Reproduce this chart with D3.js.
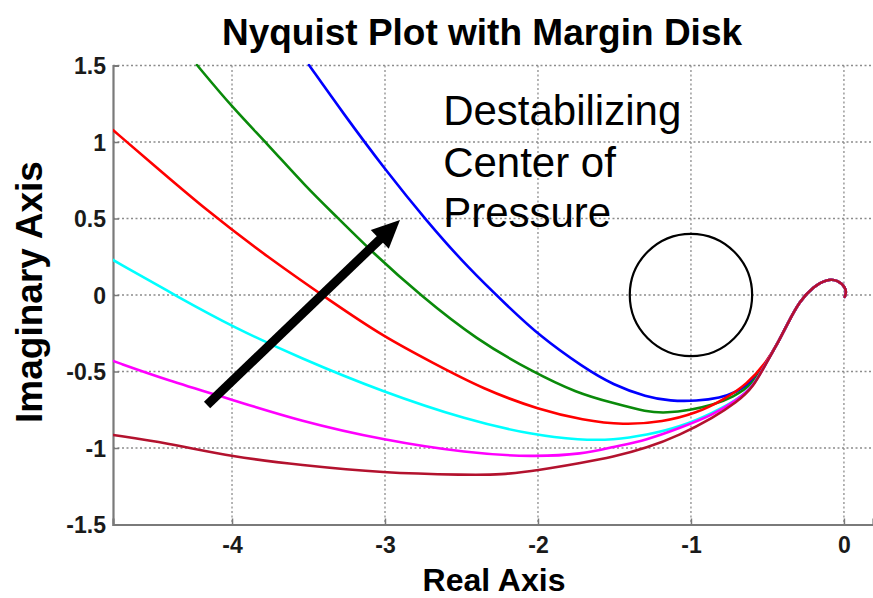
<!DOCTYPE html>
<html>
<head>
<meta charset="utf-8">
<script src="https://cdn.jsdelivr.net/npm/d3@7"></script>
<style>
  html, body { margin: 0; padding: 0; background: #fff; }
  svg { display: block; font-family: "Liberation Sans", Arial, Helvetica, sans-serif; }
</style>
</head>
<body>
<svg id="chart" width="873" height="598"></svg>
<script>
// ---- data ----
const title = "Nyquist Plot with Margin Disk";
const xLabel = "Real Axis";
const yLabel = "Imaginary Axis";
const xTicks = [-4, -3, -2, -1, 0];
const yTicks = [-1.5, -1, -0.5, 0, 0.5, 1, 1.5];
const xTickLabels = ["-4", "-3", "-2", "-1", "0"];
const yTickLabels = ["-1.5", "-1", "-0.5", "0", "0.5", "1", "1.5"];
const xDomain = [-4.778, 0.19];
const yDomain = [-1.5, 1.5];

// shared high-frequency tail of all curves
const tail = [[-0.50,-0.43],[-0.43,-0.31],[-0.37,-0.19],[-0.29,-0.04],[-0.20,0.055],[-0.11,0.105],[-0.04,0.098],[0.015,0.045],[0.012,0.005],[0.005,-0.012]];

const blueCurve = [[-3.497,1.503],[-3.275,1.19],[-3.0,0.82],[-2.725,0.48],[-2.45,0.17],[-2.2,-0.07],[-1.987,-0.27],[-1.706,-0.471],[-1.51,-0.588],[-1.288,-0.667],[-1.137,-0.693],[-0.961,-0.693],[-0.81,-0.673],[-0.699,-0.634],[-0.595,-0.565]];
const greenCurve = [[-4.229,1.503],[-3.993,1.22],[-3.771,0.99],[-3.51,0.70],[-3.314,0.51],[-3.078,0.275],[-2.771,0.0],[-2.399,-0.294],[-2.033,-0.503],[-1.745,-0.641],[-1.51,-0.706],[-1.288,-0.765],[-1.157,-0.771],[-1.007,-0.752],[-0.856,-0.719],[-0.725,-0.667],[-0.595,-0.585]];
const redCurve = [[-4.778,1.078],[-4.536,0.87],[-4.163,0.55],[-3.771,0.25],[-3.34,-0.05],[-3.013,-0.27],[-2.686,-0.444],[-2.359,-0.615],[-1.987,-0.752],[-1.706,-0.817],[-1.444,-0.85],[-1.183,-0.83],[-0.961,-0.771],[-0.791,-0.686],[-0.634,-0.585]];
const cyanCurve = [[-4.778,0.229],[-4.34,-0.02],[-3.993,-0.209],[-3.556,-0.412],[-3.013,-0.634],[-2.464,-0.817],[-2.033,-0.915],[-1.725,-0.948],[-1.51,-0.948],[-1.288,-0.915],[-1.072,-0.863],[-0.856,-0.771],[-0.699,-0.686],[-0.595,-0.601]];
const magentaCurve = [[-4.778,-0.431],[-4.425,-0.556],[-3.993,-0.686],[-3.556,-0.824],[-3.013,-0.948],[-2.464,-1.033],[-2.033,-1.059],[-1.706,-1.04],[-1.51,-0.993],[-1.288,-0.948],[-1.072,-0.869],[-0.856,-0.784],[-0.699,-0.686],[-0.595,-0.605]];
const darkRedCurve = [[-4.778,-0.915],[-4.425,-0.967],[-3.993,-1.059],[-3.556,-1.111],[-3.013,-1.163],[-2.464,-1.176],[-2.248,-1.176],[-1.987,-1.144],[-1.725,-1.098],[-1.51,-1.059],[-1.288,-1.0],[-1.072,-0.915],[-0.856,-0.804],[-0.699,-0.699],[-0.595,-0.608]];

const seriesNames = ["blue", "green", "red", "cyan", "magenta", "darkred"];
const seriesColors = ["#0000ff", "#0a8a0a", "#ff0000", "#00ffff", "#ff00ff", "#b3122e"];
const seriesData = [blueCurve, greenCurve, redCurve, cyanCurve, magentaCurve, darkRedCurve];

// margin disk
const diskCenter = [-1, 0];
const diskRadius = 0.4;

// annotation
const annotationLines = ["Destabilizing", "Center of", "Pressure"];
const annotationX = -2.62;
const annotationY = [1.11, 0.77, 0.443];
const arrowStart = [-4.163, -0.719];
const arrowEnd = [-2.902, 0.49];

// ---- layout ----
const svg = d3.select("#chart");
const W = 873, H = 598;
const mLeft = 113, mRight = 873, mTop = 65.5, mBottom = 524.5;

const x = d3.scaleLinear().domain(xDomain).range([mLeft, mRight]);
const y = d3.scaleLinear().domain(yDomain).range([mBottom, mTop]);

svg.append("rect").attr("width", W).attr("height", H).attr("fill", "#fff");

svg.append("defs").append("clipPath").attr("id", "clip")
  .append("rect").attr("x", mLeft).attr("y", mTop - 2).attr("width", mRight - mLeft).attr("height", mBottom - mTop + 4);

// grid
const grid = svg.append("g").attr("class", "grid");
grid.selectAll("line.gx").data(xTicks).enter().append("line")
  .attr("x1", d => x(d)).attr("x2", d => x(d))
  .attr("y1", mTop).attr("y2", mBottom)
  .attr("stroke", "#8c8c8c").attr("stroke-width", 1.3).attr("stroke-dasharray", "2,2.5");
grid.selectAll("line.gy").data(yTicks.filter(d => d !== -1.5)).enter().append("line")
  .attr("x1", mLeft).attr("x2", mRight)
  .attr("y1", d => y(d)).attr("y2", d => y(d))
  .attr("stroke", "#8c8c8c").attr("stroke-width", 1.3).attr("stroke-dasharray", "2,2.5");

// axes
const xAxis = d3.axisBottom(x).tickValues(xTicks).tickSize(-6).tickPadding(12)
  .tickFormat((d, i) => xTickLabels[i]);
const yAxis = d3.axisLeft(y).tickValues(yTicks).tickSize(-6).tickPadding(7)
  .tickFormat((d, i) => yTickLabels[i]);

const gx = svg.append("g").attr("transform", `translate(0,${mBottom})`).call(xAxis);
const gy = svg.append("g").attr("transform", `translate(${mLeft},0)`).call(yAxis);
[gx, gy].forEach(g => {
  g.select(".domain").attr("stroke", "#7a7a7a").attr("stroke-width", 2.2);
  g.selectAll(".tick line").attr("stroke", "#7a7a7a").attr("stroke-width", 1.5);
  g.selectAll(".tick text").attr("fill", "#1a1a1a").attr("font-size", 23).attr("font-weight", "bold")
    .attr("font-family", "'Liberation Sans', Arial, sans-serif");
});
gx.selectAll(".tick text").attr("dy", "0.71em");
gy.selectAll(".tick text").attr("dy", "0.36em");

// curves
const line = d3.line().x(d => x(d[0])).y(d => y(d[1])).curve(d3.curveBasis);
const plot = svg.append("g").attr("clip-path", "url(#clip)");
seriesData.forEach((s, i) => {
  plot.append("path")
    .datum(s.concat(tail))
    .attr("class", "series-" + seriesNames[i])
    .attr("fill", "none")
    .attr("stroke", seriesColors[i])
    .attr("stroke-width", 2.6)
    .attr("stroke-linejoin", "round")
    .attr("stroke-linecap", "round")
    .attr("d", line);
});

// margin disk
plot.append("ellipse")
  .attr("cx", x(diskCenter[0])).attr("cy", y(diskCenter[1]))
  .attr("rx", x(diskCenter[0] + diskRadius) - x(diskCenter[0]))
  .attr("ry", y(diskCenter[1]) - y(diskCenter[1] + diskRadius))
  .attr("fill", "none").attr("stroke", "#000").attr("stroke-width", 2.2);

// arrow
const ax0 = x(arrowStart[0]), ay0 = y(arrowStart[1]);
const ax1 = x(arrowEnd[0]), ay1 = y(arrowEnd[1]);
const ang = Math.atan2(ay1 - ay0, ax1 - ax0);
const headLen = 28, headHalf = 13;
const bx = ax1 - headLen * Math.cos(ang), by = ay1 - headLen * Math.sin(ang);
svg.append("line")
  .attr("x1", ax0).attr("y1", ay0).attr("x2", bx + 4 * Math.cos(ang)).attr("y2", by + 4 * Math.sin(ang))
  .attr("stroke", "#000").attr("stroke-width", 9);
svg.append("polygon")
  .attr("points", [
    [ax1, ay1],
    [bx - headHalf * Math.sin(ang), by + headHalf * Math.cos(ang)],
    [bx + headHalf * Math.sin(ang), by - headHalf * Math.cos(ang)]
  ].map(p => p.join(",")).join(" "))
  .attr("fill", "#000");

// annotation text
svg.append("g").selectAll("text").data(annotationLines).enter().append("text")
  .attr("x", x(annotationX)).attr("y", (d, i) => y(annotationY[i]))
  .attr("font-size", 42).attr("fill", "#000")
  .text(d => d);

// title and labels
svg.append("text").attr("x", 482).attr("y", 45).attr("text-anchor", "middle")
  .attr("font-size", 37).attr("font-weight", "bold").attr("fill", "#000").text(title);
svg.append("text").attr("x", 494).attr("y", 591).attr("text-anchor", "middle")
  .attr("font-size", 32).attr("font-weight", "bold").attr("fill", "#000").text(xLabel);
svg.append("text").attr("transform", "translate(42,292) rotate(-90)").attr("text-anchor", "middle")
  .attr("font-size", 37).attr("font-weight", "bold").attr("fill", "#000").text(yLabel);
</script>
</body>
</html>
